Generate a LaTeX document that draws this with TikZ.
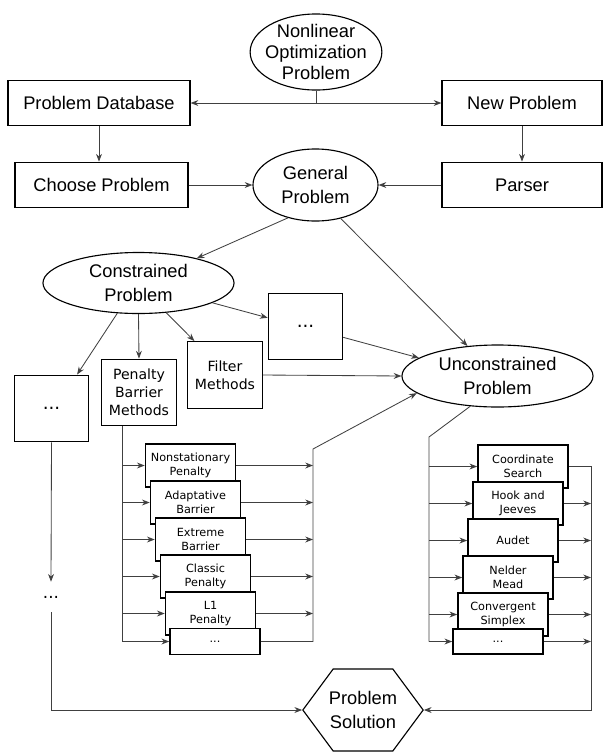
\documentclass[tikz,border=0pt]{standalone}
\usepackage{fontspec}
\setmainfont{Liberation Sans}
\newfontfamily\djv{DejaVu Sans}
\usetikzlibrary{arrows.meta,shapes.geometric,shapes.symbols}

\begin{document}
\begin{tikzpicture}[x=0.025cm,y=-0.025cm,
    >={Stealth[length=5.5pt,width=4.2pt]},
    every node/.style={font=\fontsize{13}{17}\selectfont, align=center},
    box/.style={draw, line width=0.8pt, minimum height=1.14cm},
    oval/.style={ellipse, draw, line width=0.8pt, inner sep=0pt},
    square/.style={draw, line width=0.8pt, minimum width=1.86cm, minimum height=1.67cm, font=\djv\fontsize{10}{12.7}\selectfont},
    method/.style={draw, line width=1.1pt, fill=white, minimum width=2.25cm, minimum height=1.075cm, inner sep=0pt, font=\djv\fontsize{8}{9.8}\selectfont},
    link/.style={draw=black!75, line width=0.6pt}]
\useasboundingbox (0,0) rectangle (608,752);

\node[oval, minimum width=3.275cm, minimum height=1.9cm, inner xsep=-3pt, inner ysep=-2pt, font=\fontsize{13}{15}\selectfont] (nonlin) at (316,52) {Nonlinear\\Optimization\\Problem};
\node[box, minimum width=4.55cm] (pdb) at (99,103) {Problem Database};
\node[box, minimum width=4cm] (newp) at (522,103) {New Problem};
\node[box, minimum width=4.325cm] (choose) at (101.5,185) {Choose Problem};
\node[box, minimum width=4cm] (parser) at (522,185) {Parser};
\node[oval, minimum width=3.125cm, minimum height=1.8cm] (general) at (315.5,185) {General\\Problem};
\node[oval, minimum width=4.775cm, minimum height=1.525cm] (cons) at (138.5,283) {Constrained\\Problem};
\node[oval, minimum width=4.775cm, minimum height=1.55cm] (uncon) at (497.5,376) {Unconstrained\\Problem};
\node[square, font=\djv\fontsize{13}{15}\selectfont] (mdots) at (305.5,326.5) {...};
\node[square] (filter) at (225,375) {Filter\\Methods};
\node[square] (pen) at (139,392.5) {Penalty\\Barrier\\Methods};
\node[square, font=\djv\fontsize{13}{15}\selectfont] (ldots) at (51.5,408.5) {...};
\node[font=\djv\fontsize{12}{14}\selectfont, minimum height=0.75cm, inner sep=0pt] (vdots) at (51,597) {...};
\node[signal, signal to=west and east, signal pointer angle=107, draw, line width=0.8pt, minimum height=2.05cm, inner xsep=-3pt, inner ysep=0pt] (sol) at (363,710) {Problem\\Solution};

\node[method] (ls0) at (190.5,465.5) {Nonstationary\\Penalty};
\node[method] (ls1) at (195.5,502.5) {Adaptative\\Barrier};
\node[method] (ls2) at (200.5,539.5) {Extreme\\Barrier};
\node[method] (ls3) at (205.5,576.5) {Classic\\Penalty};
\node[method] (ls4) at (210.5,613.5) {L1\\Penalty};
\node[method, minimum height=0.65cm] (ls5) at (215,641.5) {...};

\node[method] (rs0) at (523,466.5) {Coordinate\\Search};
\node[method] (rs1) at (518,503.5) {Hook and\\Jeeves};
\node[method] (rs2) at (513,540.5) {Audet};
\node[method] (rs3) at (508,577.5) {Nelder\\Mead};
\node[method] (rs4) at (503,614.5) {Convergent\\Simplex};
\node[method, minimum height=0.625cm] (rs5) at (498,641.5) {...};

\draw[link] (nonlin.south) -- (nonlin.south |- pdb.east) coordinate (split);
\draw[link,->] (split) -- (pdb.east);
\draw[link,->] (split) -- (newp.west);
\draw[link,->] (pdb.south) -- (pdb.south |- choose.north);
\draw[link,->] (newp.south) -- (parser.north);
\draw[link,->] (choose.east) -- (general.west);
\draw[link,->] (parser.west) -- (general.east);
\draw[link,->] (general.230) -- (cons.23);
\draw[link,->] (general.-53) -- (uncon.135);
\draw[link,->] (cons.235) -- (ldots.53);
\draw[link,->] (cons.south) -- (pen.north);
\draw[link,->] (cons.-47) -- (filter.132);
\draw[link,->] (cons.-15) -- (mdots.167);
\draw[link,->] (mdots.-16) -- (uncon.167);
\draw[link,->] (filter.east) -- (uncon.west);
\draw[link,->] (ldots.south) -- (vdots.north);
\draw[link,->] (vdots.south) |- (sol.west);

\coordinate (lbus) at (122,0);
\coordinate (lout) at (313,449);
\draw[link] (pen.south -| lbus) -- (ls5.west -| lbus);
\draw[link,->] (ls0.west -| lbus) -- (ls0.west);
\draw[link,->] (ls1.west -| lbus) -- (ls1.west);
\draw[link,->] (ls2.west -| lbus) -- (ls2.west);
\draw[link,->] (ls3.west -| lbus) -- (ls3.west);
\draw[link,->] (ls4.west -| lbus) -- (ls4.west);
\draw[link,->] (ls5.west -| lbus) -- (ls5.west);
\draw[link,->] (ls0.east) -- (ls0.east -| lout);
\draw[link,->] (ls1.east) -- (ls1.east -| lout);
\draw[link,->] (ls2.east) -- (ls2.east -| lout);
\draw[link,->] (ls3.east) -- (ls3.east -| lout);
\draw[link,->] (ls4.east) -- (ls4.east -| lout);
\draw[link,->] (ls5.east) -| (lout) -- (uncon.192);

\coordinate (rin) at (429,437);
\coordinate (rbus) at (591,0);
\draw[link] (uncon.228) -- (rin) -- (rin |- rs5.west);
\draw[link,->] (rin |- rs0.west) -- (rs0.west);
\draw[link,->] (rin |- rs1.west) -- (rs1.west);
\draw[link,->] (rin |- rs2.west) -- (rs2.west);
\draw[link,->] (rin |- rs3.west) -- (rs3.west);
\draw[link,->] (rin |- rs4.west) -- (rs4.west);
\draw[link,->] (rin |- rs5.west) -- (rs5.west);
\draw[link,->] (rs0.east) -| (rbus |- sol.east) -- (sol.east);
\draw[link,->] (rs1.east) -- (rs1.east -| rbus);
\draw[link,->] (rs2.east) -- (rs2.east -| rbus);
\draw[link,->] (rs3.east) -- (rs3.east -| rbus);
\draw[link,->] (rs4.east) -- (rs4.east -| rbus);
\draw[link,->] (rs5.east) -- (rs5.east -| rbus);
\end{tikzpicture}
\end{document}
